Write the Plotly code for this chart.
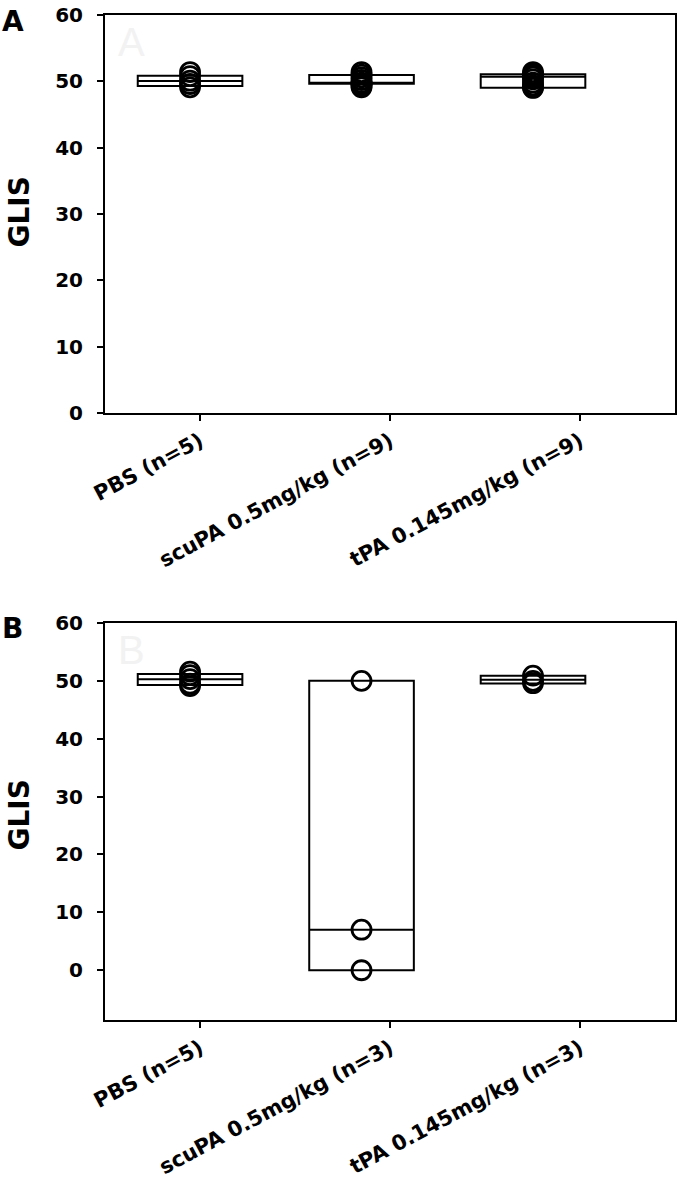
import plotly.graph_objects as go

# ---------------- data ----------------
cats_a = ["PBS (n=5)", "scuPA 0.5mg/kg (n=9)", "tPA 0.145mg/kg (n=9)"]
cats_b = ["PBS (n=5)", "scuPA 0.5mg/kg (n=3)", "tPA 0.145mg/kg (n=3)"]

# box statistics
q1_a = [49.3, 49.65, 49.05]
med_a = [50.05, 49.75, 50.7]
q3_a = [50.86, 50.95, 51.05]

q1_b = [49.3, 0.0, 49.55]
med_b = [50.3, 7.0, 50.2]
q3_b = [51.2, 50.0, 50.9]

# individual observations
pbs_a = [49.1, 49.6, 50.1, 50.8, 51.4]
scupa_a = [49.1, 49.3, 49.6, 49.7, 49.8, 50.2, 50.6, 51.0, 51.4]
tpa_a = [49.0, 49.1, 49.4, 49.8, 50.3, 50.7, 50.9, 51.1, 51.4]

pbs_b = [49.1, 49.5, 50.3, 51.0, 51.6]
scupa_b = [0.0, 7.0, 50.0]
tpa_b = [49.6, 50.0, 50.9]

y_ticks = [0, 10, 20, 30, 40, 50, 60]

# ---------------- figure ----------------
W, H = 680, 1184
FONT = "DejaVu Sans"
BLACK = "black"

fig = go.Figure()


def add_panel(fig, cats, q1, med, q3, groups, xa, ya, xbox):
    fig.add_trace(go.Box(
        x=cats, q1=q1, median=med, q3=q3, lowerfence=q1, upperfence=q3,
        xaxis=xbox, yaxis=ya, fillcolor="white",
        line=dict(color=BLACK, width=2), width=0.61, whiskerwidth=0,
        showlegend=False, hoverinfo="skip"))
    xs, ys = [], []
    for c, vals in zip(cats, groups):
        xs += [c] * len(vals)
        ys += list(vals)
    fig.add_trace(go.Scatter(
        x=xs, y=ys, xaxis=xbox, yaxis=ya, mode="markers",
        marker=dict(symbol="circle-open", size=19, color=BLACK,
                    line=dict(width=2.8, color=BLACK)),
        showlegend=False, hoverinfo="skip"))
    # bind categories to the visible axis so its ticks are labelled
    fig.add_trace(go.Scatter(x=cats, y=[None] * len(cats), xaxis=xa, yaxis=ya,
                             mode="markers", showlegend=False, hoverinfo="skip"))


add_panel(fig, cats_a, q1_a, med_a, q3_a, [pbs_a, scupa_a, tpa_a], "x", "y", "x3")
add_panel(fig, cats_b, q1_b, med_b, q3_b, [pbs_b, scupa_b, tpa_b], "x2", "y2", "x4")

xdom = [105 / W, 675 / W]
ydom_a = [1 - 413 / H, 1 - 15 / H]
ydom_b = [1 - 1020 / H, 1 - 623 / H]

xcommon = dict(
    type="category", range=[-0.5, 2.5], showline=True, linecolor=BLACK,
    linewidth=2, mirror=True, ticks="outside", ticklen=6, tickwidth=2,
    tickcolor=BLACK, tickangle=-28, showgrid=False, zeroline=False,
    tickfont=dict(family=FONT, size=21, color=BLACK, weight="bold"),
    ticklabelstandoff=0, domain=xdom, automargin=False)
ycommon = dict(
    tickmode="array", tickvals=y_ticks, showline=True, linecolor=BLACK,
    linewidth=2, mirror=True, ticks="outside", ticklen=6, tickwidth=2,
    tickcolor=BLACK, showgrid=False, zeroline=False,
    tickfont=dict(family=FONT, size=20, color=BLACK, weight="bold"),
    ticklabelstandoff=10, automargin=False)
boxax = dict(type="category", range=[-0.496, 2.828], visible=False,
             showgrid=False, zeroline=False, domain=xdom, automargin=False)

fig.update_layout(
    width=W, height=H, margin=dict(l=0, r=0, t=0, b=0, pad=0),
    paper_bgcolor="white", plot_bgcolor="white", showlegend=False,
    xaxis=dict(**xcommon, anchor="y", categoryorder="array", categoryarray=cats_a),
    xaxis2=dict(**xcommon, anchor="y2", categoryorder="array", categoryarray=cats_b),
    xaxis3=dict(**boxax, overlaying="x", anchor="y", categoryorder="array", categoryarray=cats_a),
    xaxis4=dict(**boxax, overlaying="x2", anchor="y2", categoryorder="array", categoryarray=cats_b),
    yaxis=dict(**ycommon, range=[0, 60], domain=ydom_a, anchor="x"),
    yaxis2=dict(**ycommon, range=[-8.6, 60], domain=ydom_b, anchor="x2"),
)

annots = [
    dict(text="A", x=0, y=1 - 3 / H, xanchor="left", yanchor="top",
         font=dict(family=FONT, size=28, color=BLACK, weight="bold")),
    dict(text="B", x=0, y=1 - 610 / H, xanchor="left", yanchor="top",
         font=dict(family=FONT, size=28, color=BLACK, weight="bold")),
    dict(text="A", x=116 / W, y=1 - 18 / H, xanchor="left", yanchor="top",
         font=dict(family="Liberation Sans", size=40, color="#f2f2f2")),
    dict(text="B", x=116 / W, y=1 - 626 / H, xanchor="left", yanchor="top",
         font=dict(family="Liberation Sans", size=40, color="#f2f2f2")),
    dict(text="GLIS", x=0, y=1 - 212 / H, textangle=-90, xanchor="left",
         yanchor="middle",
         font=dict(family=FONT, size=28, color=BLACK, weight="bold")),
    dict(text="GLIS", x=0, y=1 - 815 / H, textangle=-90, xanchor="left",
         yanchor="middle",
         font=dict(family=FONT, size=28, color=BLACK, weight="bold")),
]
for a in annots:
    a.update(xref="paper", yref="paper", showarrow=False)
fig.update_layout(annotations=annots)

fig.write_html(
    "out.html",
    config={"displayModeBar": False},
    post_script="document.body.style.margin='0';document.body.style.overflow='hidden';",
)
